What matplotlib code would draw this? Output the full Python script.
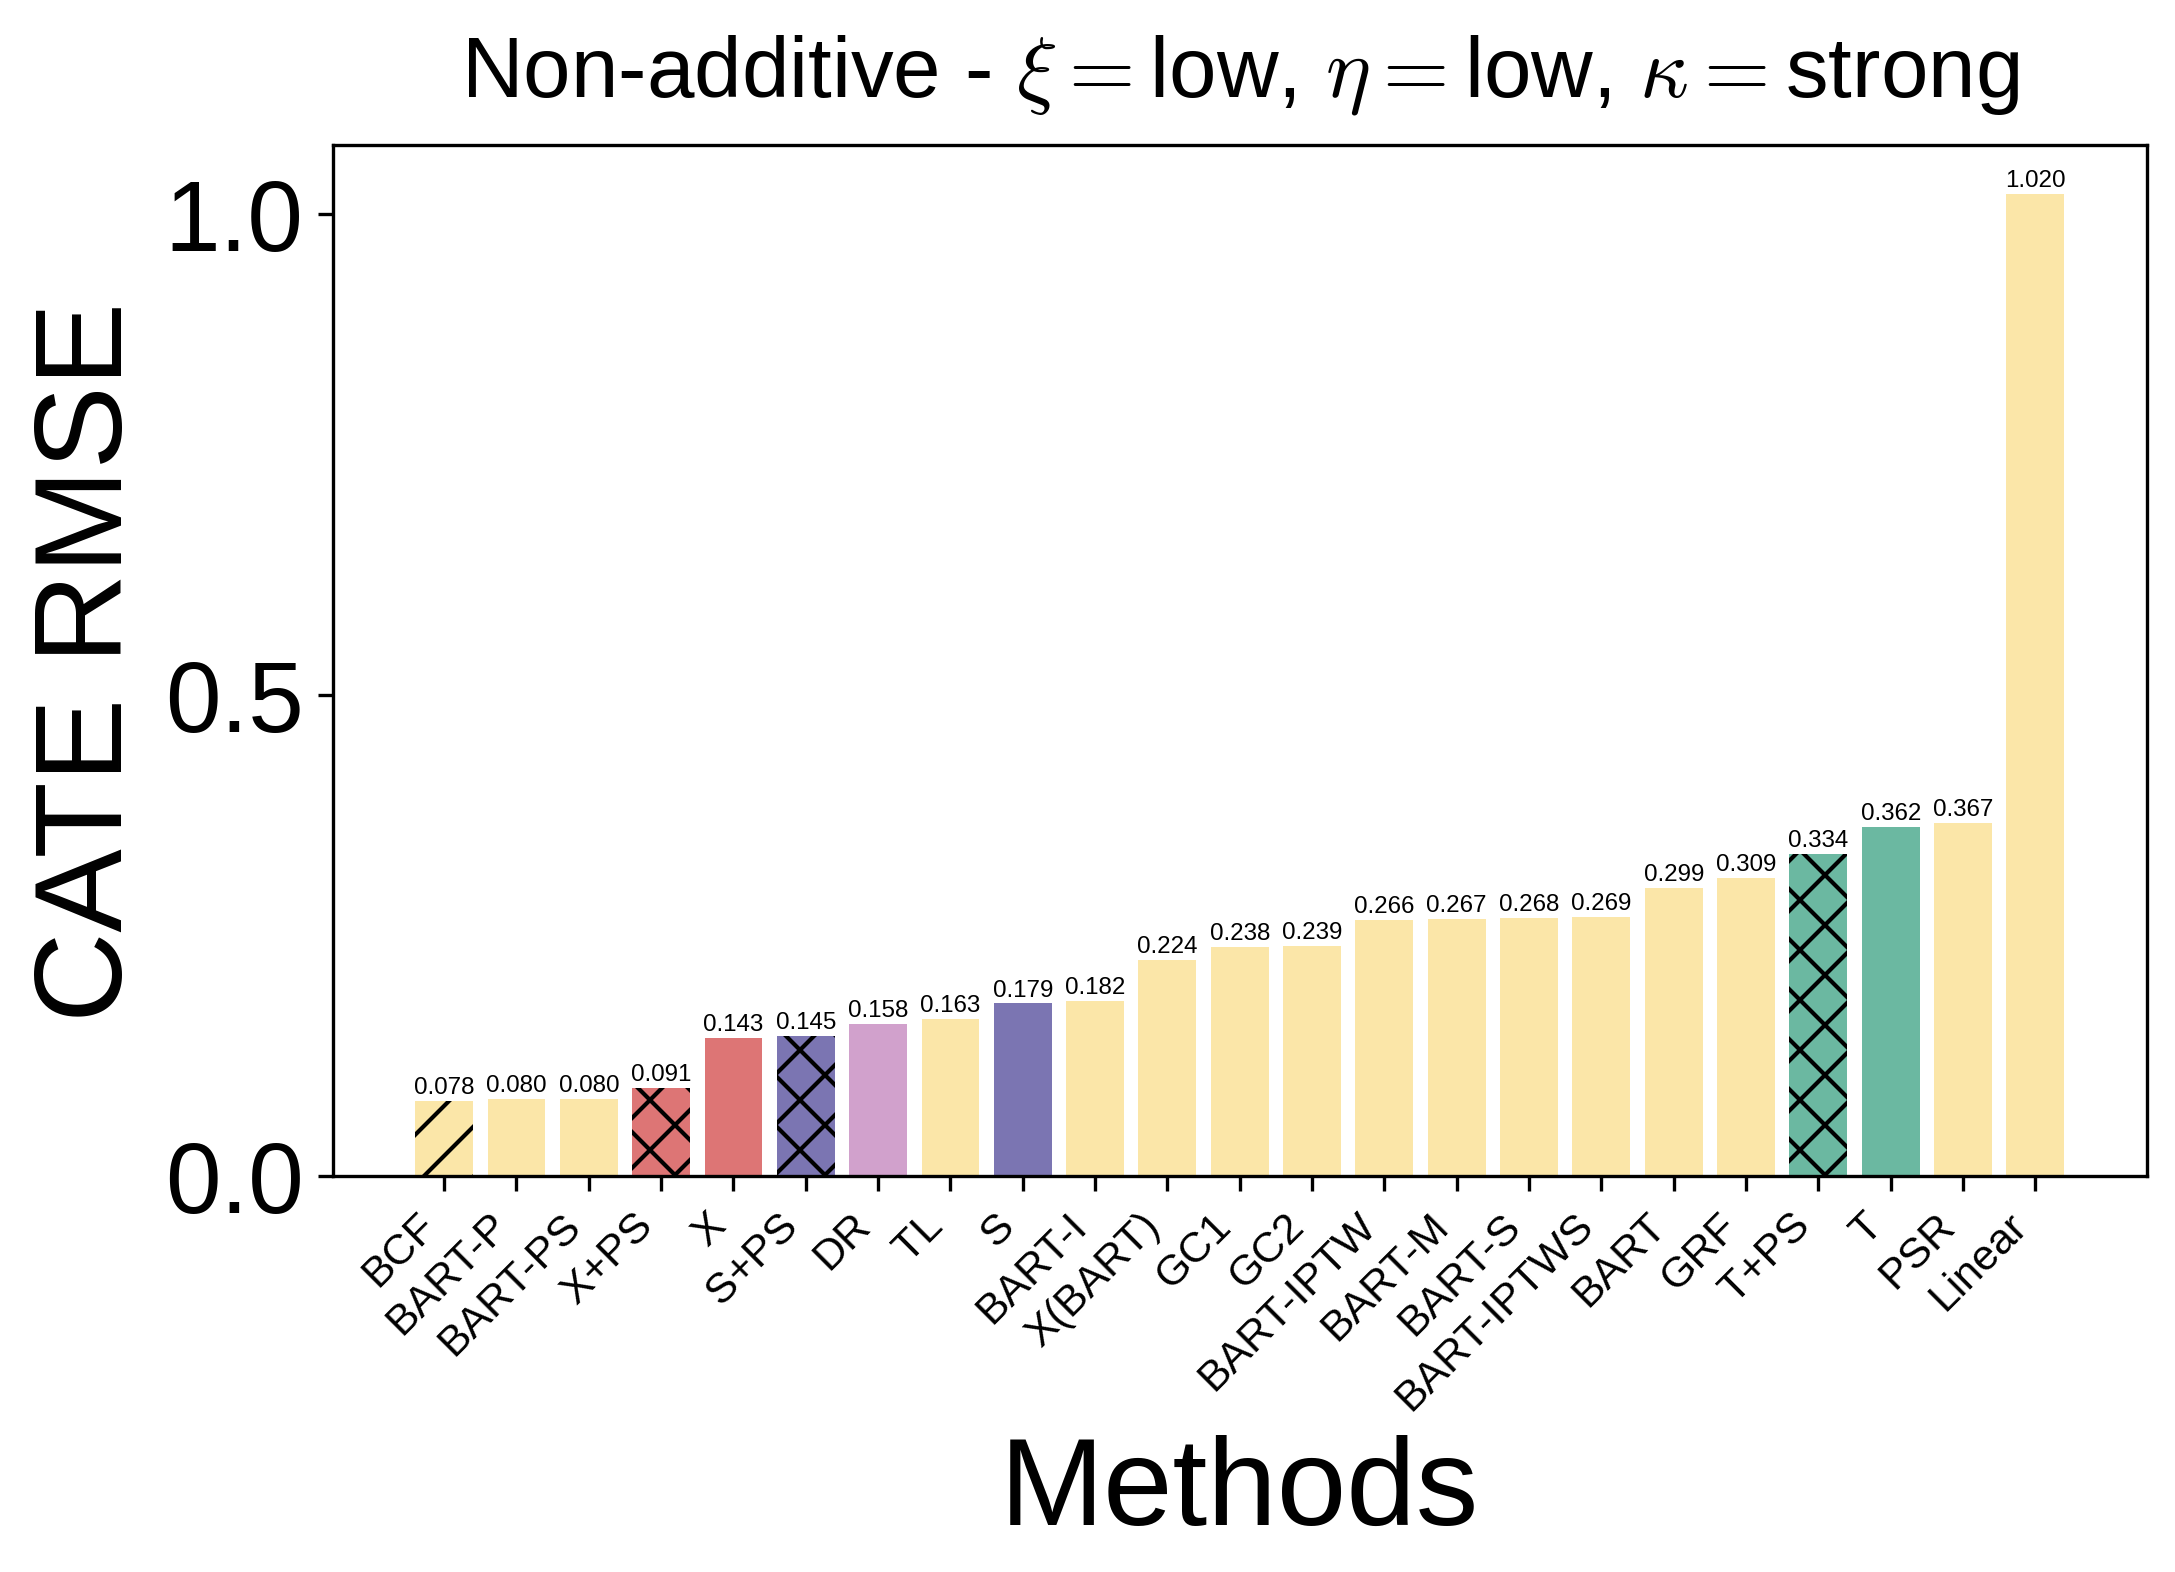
import matplotlib
matplotlib.use('Agg')
import matplotlib.pyplot as plt

plt.rcParams['font.family'] = ['Liberation Sans', 'DejaVu Sans']
plt.rcParams['mathtext.fontset'] = 'cm'

methods = ['BCF', 'BART-P', 'BART-PS', 'X+PS', 'X', 'S+PS', 'DR', 'TL', 'S',
           'BART-I', 'X(BART)', 'GC1', 'GC2', 'BART-IPTW', 'BART-M', 'BART-S',
           'BART-IPTWS', 'BART', 'GRF', 'T+PS', 'T', 'PSR', 'Linear']
rmse = [0.078, 0.080, 0.080, 0.091, 0.143, 0.145, 0.158, 0.163, 0.179,
        0.182, 0.224, 0.238, 0.239, 0.266, 0.267, 0.268,
        0.269, 0.299, 0.309, 0.334, 0.362, 0.367, 1.020]

# colour groups
yellow = '#fbe6a8'
red = '#dd7575'
pink = '#d1a1cc'
purple = '#7b75b2'
teal = '#6bb8a1'
colors = [yellow, yellow, yellow, red, red, purple, pink, yellow, purple,
          yellow, yellow, yellow, yellow, yellow, yellow, yellow,
          yellow, yellow, yellow, teal, teal, yellow, yellow]
hatches = ['//', '', '', 'xx', '', 'xx', '', '', '',
           '', '', '', '', '', '', '',
           '', '', '', 'xx', '', '', '']

fig, ax = plt.subplots(figsize=(7.25, 5.2433), dpi=300)
fig.subplots_adjust(left=0.153, right=0.987, top=0.907, bottom=0.252)

x = range(len(methods))
bars = ax.bar(x, rmse, width=0.8, color=colors)
for b, h in zip(bars, hatches):
    if h:
        b.set_hatch(h)

for b, v in zip(bars, rmse):
    ax.text(b.get_x() + b.get_width() / 2, v + 0.003, '%.3f' % v,
            ha='center', va='bottom', fontsize=5.8)

ax.set_xticks(list(x))
ax.set_xticklabels(methods, rotation=45, ha='right', fontsize=10.3)
ax.tick_params(axis='y', labelsize=24)
ax.set_yticks([0.0, 0.5, 1.0])
ax.set_ylabel('CATE RMSE', fontsize=30)
ax.set_xlabel('Methods', fontsize=30)
ax.set_title(r'Non-additive - $\xi=$low, $\eta=$low, $\kappa=$strong', fontsize=20.5, pad=12)

fig.savefig('out.png', dpi=300)
